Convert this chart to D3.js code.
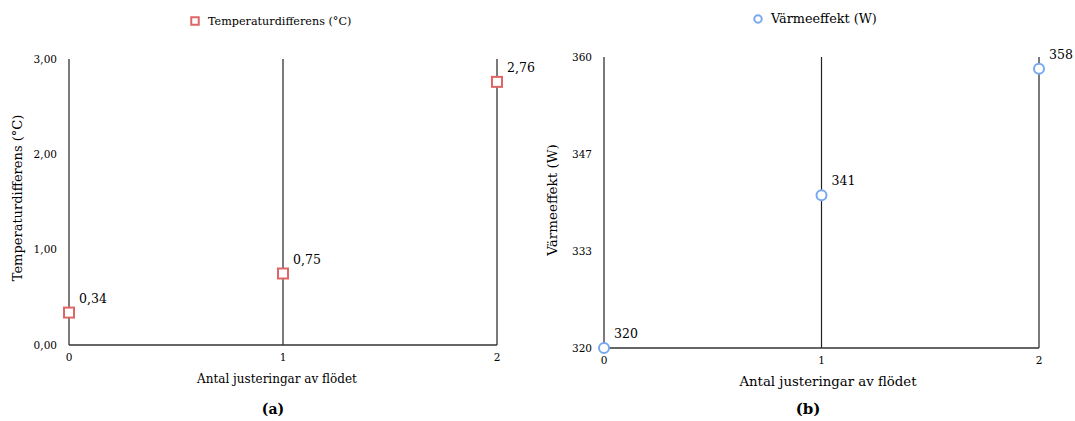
<!DOCTYPE html>
<html>
<head>
<meta charset="utf-8">
<script src="https://cdn.jsdelivr.net/npm/d3@7"></script>
<style>
  body { margin: 0; background: #fff; }
  text { font-family: "DejaVu Serif", serif; fill: #000; }
</style>
</head>
<body>
<script>
// Data
var adjustments = [0, 1, 2];
var tempDiff = [0.34, 0.75, 2.76];
var tempTicks = [0, 1, 2, 3];
var heatPower = [320, 341, 358.4];
var heatTicks = [320, 346.67, 333.33, 360];
var xTitle = "Antal justeringar av flödet";

var svg = d3.select("body").append("svg")
            .attr("width", 1075)
            .attr("height", 421);

// draw one panel
function panel(opt) {
  var x = d3.scaleLinear().domain([0, 2]).range([opt.left, opt.right]);
  var y = d3.scaleLinear().domain(opt.domain).range([opt.bottom, opt.top]);
  var g = svg.append("g");

  // vertical grid lines (incl. y axis)
  g.selectAll(".grid")
   .data(adjustments)
   .enter()
   .append("line")
   .attr("x1", function(d) { return x(d); })
   .attr("x2", function(d) { return x(d); })
   .attr("y1", opt.top)
   .attr("y2", opt.bottom)
   .attr("stroke", "#222")
   .attr("stroke-width", 1.2);

  // x axis line
  g.append("line")
   .attr("x1", opt.left).attr("x2", opt.right)
   .attr("y1", opt.bottom).attr("y2", opt.bottom)
   .attr("stroke", "#333")
   .attr("stroke-width", 1.6);

  // y tick labels
  g.selectAll(".ytick")
   .data(opt.ticks)
   .enter()
   .append("text")
   .attr("x", opt.left - 12)
   .attr("y", function(d) { return y(d); })
   .attr("dy", "0.35em")
   .attr("text-anchor", "end")
   .attr("font-size", 10.5)
   .text(opt.tickFmt);

  // x tick labels
  g.selectAll(".xtick")
   .data(adjustments)
   .enter()
   .append("text")
   .attr("x", function(d) { return x(d); })
   .attr("y", opt.bottom + 16)
   .attr("text-anchor", "middle")
   .attr("font-size", 10.5)
   .text(function(d) { return d; });

  // axis titles
  g.append("text")
   .attr("x", opt.xTitleX)
   .attr("y", opt.bottom + 38)
   .attr("text-anchor", "middle")
   .attr("font-size", opt.titleSize)
   .text(xTitle);

  g.append("text")
   .attr("transform", "translate(" + opt.yTitleX + "," + opt.yTitleY + ") rotate(-90)")
   .attr("text-anchor", "middle")
   .attr("font-size", opt.yTitleSize)
   .text(opt.yTitle);

  // sub caption
  g.append("text")
   .attr("x", opt.captionX)
   .attr("y", 414)
   .attr("text-anchor", "middle")
   .attr("font-size", opt.captionSize)
   .attr("font-weight", "bold")
   .text(opt.caption);

  // legend
  var lg = g.append("g").attr("transform", "translate(" + opt.legendX + "," + opt.legendY + ")");
  opt.marker(lg.append("g"), 0, 0, 0.75);
  lg.append("text")
    .attr("x", 13)
    .attr("y", 0)
    .attr("dy", "0.35em")
    .attr("font-size", opt.legendSize)
    .text(opt.legend);

  // points + value labels
  opt.values.forEach(function(v, i) {
    opt.marker(g.append("g"), x(adjustments[i]), y(v), 1);
    g.append("text")
     .attr("x", x(adjustments[i]) + 10)
     .attr("y", y(v) - 10)
     .attr("font-size", 12.5)
     .text(opt.labelFmt(v));
  });
}

function squareMarker(sel, cx, cy, s) {
  var r = 5 * s;
  sel.append("rect")
     .attr("x", cx - r).attr("y", cy - r)
     .attr("width", 2 * r).attr("height", 2 * r)
     .attr("fill", "#fff")
     .attr("stroke", "#e06666")
     .attr("stroke-width", 2);
}

function circleMarker(sel, cx, cy, s) {
  sel.append("circle")
     .attr("cx", cx).attr("cy", cy)
     .attr("r", 5 * s)
     .attr("fill", "#fff")
     .attr("stroke", "#78a8f0")
     .attr("stroke-width", 2);
}

var comma = function(f) { return function(d) { return d3.format(f)(d).replace(".", ","); }; };

panel({
  left: 69, right: 497, top: 59, bottom: 345,
  domain: [0, 3], ticks: tempTicks, values: tempDiff,
  tickFmt: comma(".2f"), labelFmt: comma(".2f"),
  xTitleX: 277, titleSize: 12,
  yTitle: "Temperaturdifferens (°C)", yTitleX: 22, yTitleY: 198, yTitleSize: 13,
  legend: "Temperaturdifferens (°C)", legendX: 195, legendY: 21, legendSize: 11.2,
  caption: "(a)", captionX: 273, captionSize: 14,
  marker: squareMarker
});

panel({
  left: 604, right: 1039, top: 57, bottom: 348,
  domain: [320, 360], ticks: heatTicks, values: heatPower,
  tickFmt: d3.format(".0f"), labelFmt: d3.format(".0f"),
  xTitleX: 828, titleSize: 13.3,
  yTitle: "Värmeeffekt (W)", yTitleX: 557, yTitleY: 200, yTitleSize: 13.5,
  legend: "Värmeeffekt (W)", legendX: 758, legendY: 19, legendSize: 12.8,
  caption: "(b)", captionX: 808, captionSize: 15,
  marker: circleMarker
});
</script>
</body>
</html>
